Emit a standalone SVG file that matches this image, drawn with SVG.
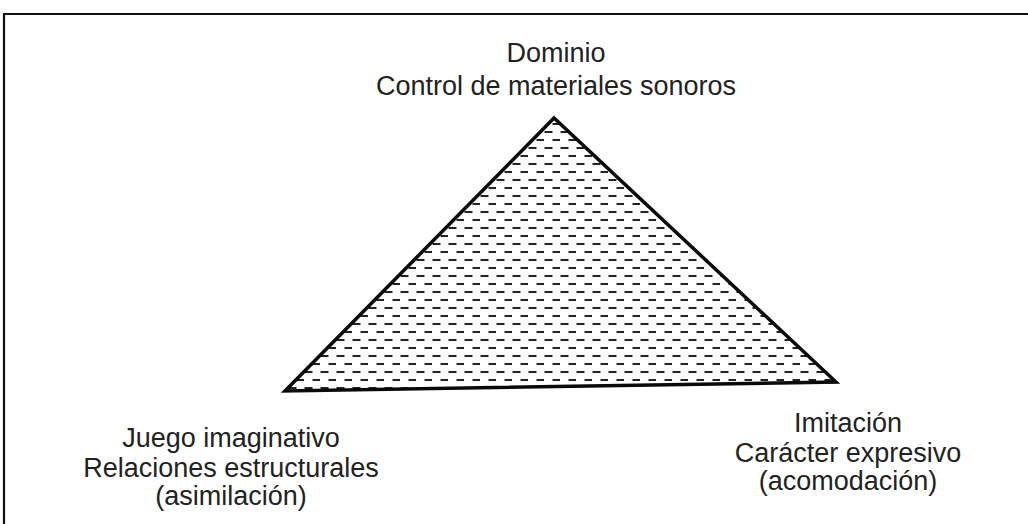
<svg xmlns="http://www.w3.org/2000/svg" width="1028" height="524" viewBox="0 0 1028 524">
  <style>
    .lbl { font-family: "Liberation Sans", Arial, sans-serif; font-size: 27px; fill: #222; text-anchor: middle; }
    .frame { stroke: #111; stroke-width: 2.2; fill: none; }
    .tri { stroke: #0a0a0a; stroke-width: 3.5; stroke-linejoin: miter; }
  </style>
  <defs>
    <pattern id="hatch" patternUnits="userSpaceOnUse" x="0" y="0" width="16" height="16">
      <line x1="0.5" y1="4" x2="8.5" y2="4" stroke="#222" stroke-width="2"/>
      <line x1="8.5" y1="12" x2="16.5" y2="12" stroke="#222" stroke-width="2"/>
    </pattern>
  </defs>
  <rect width="1028" height="524" fill="#ffffff"/>
  <g id="frame">
    <polyline class="frame" points="4,524 4,14 1028,14"/>
  </g>
  <g id="triangle">
    <polygon class="tri" points="554,118 285,391 836,382" fill="url(#hatch)"/>
  </g>
  <g id="node-top">
    <text class="lbl" x="556" y="62">Dominio</text>
    <text class="lbl" x="556" y="95">Control de materiales sonoros</text>
  </g>
  <g id="node-left">
    <text class="lbl" x="231" y="447">Juego imaginativo</text>
    <text class="lbl" x="231" y="477">Relaciones estructurales</text>
    <text class="lbl" x="231" y="505">(asimilación)</text>
  </g>
  <g id="node-right">
    <text class="lbl" x="848" y="432">Imitación</text>
    <text class="lbl" x="848" y="462">Carácter expresivo</text>
    <text class="lbl" x="848" y="490">(acomodación)</text>
  </g>
  <g id="connectors"></g>
</svg>
